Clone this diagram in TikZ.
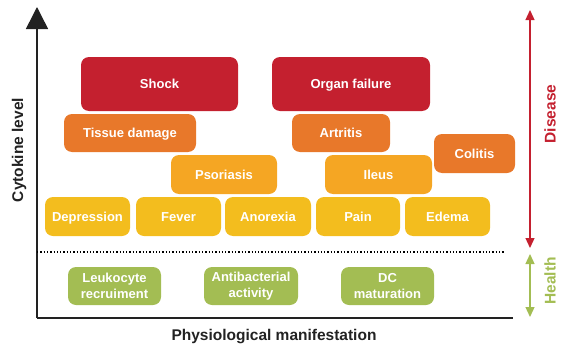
\documentclass[tikz,border=0pt]{standalone}
\usepackage{fontspec}
\setmainfont{Liberation Sans}
\usetikzlibrary{arrows.meta}
\definecolor{cred}{HTML}{C4202F}
\definecolor{corange}{HTML}{E8782A}
\definecolor{camber}{HTML}{F5A623}
\definecolor{cyellow}{HTML}{F3BD1E}
\definecolor{cgreen}{HTML}{A3BD53}
\definecolor{caxis}{HTML}{222222}
\tikzset{
  bx/.style={rounded corners=8pt, fill=#1, draw=none, text=white, inner sep=0pt,
    align=center, font=\fontsize{13}{15.5}\selectfont\bfseries},
  onebx/.style={bx=#1, text height=9.4pt, text depth=0pt},
  axlabel/.style={font=\fontsize{15.5}{18}\selectfont\bfseries, inner sep=0pt},
}
\begin{document}
\begin{tikzpicture}[x=1pt,y=-1pt]
\useasboundingbox (0,0) rectangle (565,348);
% boxes
\node[onebx=cred, minimum width=157pt, minimum height=54pt] (shock) at (159.5,84) {Shock};
\node[onebx=cred, minimum width=158pt, minimum height=54pt] (organ) at (351,84) {Organ failure};
\node[onebx=corange, minimum width=132pt, minimum height=38pt] (tissue) at (130,133) {Tissue damage};
\node[onebx=corange, minimum width=98pt, minimum height=38pt] (artritis) at (341,133) {Artritis};
\node[onebx=corange, minimum width=81pt, minimum height=39pt] (colitis) at (474.5,153.5) {Colitis};
\node[onebx=camber, minimum width=106pt, minimum height=39pt] (psoriasis) at (224,174.5) {Psoriasis};
\node[onebx=camber, minimum width=107pt, minimum height=39pt] (ileus) at (378.5,174.5) {Ileus};
\node[onebx=cyellow, minimum width=85pt, minimum height=39pt] (depression) at (87.5,216.5) {Depression};
\node[onebx=cyellow, minimum width=85pt, minimum height=39pt] (fever) at (178.5,216.5) {Fever};
\node[onebx=cyellow, minimum width=86pt, minimum height=39pt] (anorexia) at (268,216.5) {Anorexia};
\node[onebx=cyellow, minimum width=84pt, minimum height=39pt] (pain) at (358,216.5) {Pain};
\node[onebx=cyellow, minimum width=85pt, minimum height=39pt] (edema) at (447.5,216.5) {Edema};
\node[bx=cgreen, minimum width=93pt, minimum height=38pt] (leuko) at (114.5,286) {Leukocyte\\recruiment};
\node[bx=cgreen, minimum width=94pt, minimum height=38pt] (antib) at (251,286) {Antibacterial\\activity};
\node[bx=cgreen, minimum width=93pt, minimum height=38pt] (dc) at (387.5,286) {DC\\maturation};
% axes
\coordinate (o) at (37,318);
\coordinate (ytop) at (37,7);
\coordinate (xend) at (513,318);
\draw[caxis, line width=1.5pt, -{Triangle[width=22pt,length=22pt]}] (o) -- (ytop);
\draw[caxis, line width=1.5pt] (o) -- (xend);
\coordinate (dl) at (37,252);
\coordinate (dr) at (505,252);
\draw[black, line width=1.3pt, dotted] (dl) -- (dr);
% right arrows
\coordinate (dtop) at (530,10);
\coordinate (dbot) at (530,248);
\coordinate (htop) at (530,254);
\coordinate (hbot) at (530,317);
\draw[cred, line width=1.3pt, {Triangle[width=9pt,length=10pt]}-{Triangle[width=9pt,length=10pt]}] (dtop) -- (dbot);
\draw[cgreen, line width=1.3pt, {Triangle[width=9pt,length=10pt]}-{Triangle[width=9pt,length=10pt]}] (htop) -- (hbot);
% labels
\node[axlabel, rotate=90, text=caxis] (ylab) at (19,150) {Cytokine level};
\node[axlabel, text=caxis] (xlab) at (274,337) {Physiological manifestation};
\node[axlabel, rotate=90, text=cred] (dis) at (550,114) {Disease};
\node[axlabel, rotate=90, text=cgreen] (hea) at (550,281) {Health};
\end{tikzpicture}
\end{document}
